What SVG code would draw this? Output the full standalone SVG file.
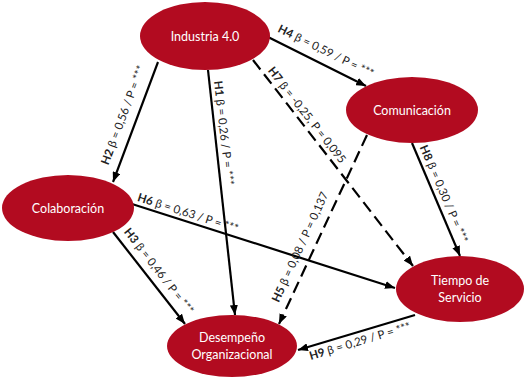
<svg xmlns="http://www.w3.org/2000/svg" width="526" height="380" viewBox="0 0 526 380">
<style>
.node{fill:#B20B20;}
.nt{fill:#ffffff;font-family:Lato,"Open Sans",sans-serif;font-size:12.5px;text-anchor:middle;}
.ln{stroke:#000;stroke-width:2.2;fill:none;}
.dash{stroke-dasharray:12 6;}
.lb{fill:#222;font-family:Lato,"Open Sans",sans-serif;font-size:11.5px;text-anchor:middle;}
.h{font-weight:bold;}
</style>
<defs>
<marker id="arr" viewBox="0 0 10 8" refX="10" refY="4" markerWidth="10" markerHeight="8" markerUnits="userSpaceOnUse" orient="auto">
<path d="M0,0 L10,4 L0,8 z" fill="#000"/>
</marker>
</defs>
<rect width="526" height="380" fill="#fff"/>
<g id="connectors">
<line class="ln" x1="158" y1="62" x2="113" y2="182" marker-end="url(#arr)"/>
<line class="ln" x1="208" y1="70" x2="235" y2="315" marker-end="url(#arr)"/>
<line class="ln" x1="268" y1="37" x2="366" y2="86" marker-end="url(#arr)"/>
<line class="ln dash" x1="253" y1="60" x2="413" y2="266" marker-end="url(#arr)"/>
<line class="ln" x1="412" y1="143" x2="460" y2="256" marker-end="url(#arr)"/>
<line class="ln dash" x1="367" y1="135" x2="279" y2="324" marker-end="url(#arr)"/>
<line class="ln" x1="132" y1="204" x2="395" y2="288" marker-end="url(#arr)"/>
<line class="ln" x1="113" y1="232" x2="185" y2="324" marker-end="url(#arr)"/>
<line class="ln" x1="415" y1="315" x2="298" y2="350" marker-end="url(#arr)"/>
</g>
<g id="labels">
<text class="lb" transform="translate(123,115) rotate(-69.4)" dy="0.35em"><tspan class="h">H2</tspan><tspan dx="3">β = 0,56 / P = ***</tspan></text>
<text class="lb" transform="translate(224,133) rotate(83.4)" dy="0.35em"><tspan class="h">H1</tspan><tspan dx="3">β = 0,26 / P = ***</tspan></text>
<text class="lb" transform="translate(326,51) rotate(26)" dy="0.35em"><tspan class="h">H4</tspan><tspan dx="3">β = 0,59 / P = ***</tspan></text>
<text class="lb" transform="translate(307,115) rotate(52)" dy="0.35em"><tspan class="h">H7</tspan><tspan dx="3">β = -0,25, P = 0,095</tspan></text>
<text class="lb" transform="translate(444,194) rotate(66.8)" dy="0.35em"><tspan class="h">H8</tspan><tspan dx="3">β = 0,30 / P = ***</tspan></text>
<text class="lb" transform="translate(188,213) rotate(17.7)" dy="0.35em"><tspan class="h">H6</tspan><tspan dx="3">β = 0,63 / P = ***</tspan></text>
<text class="lb" transform="translate(159,271) rotate(52)" dy="0.35em"><tspan class="h">H3</tspan><tspan dx="3">β = 0,46 / P = ***</tspan></text>
<text class="lb" transform="translate(300,247) rotate(-65.4)" dy="0.35em"><tspan class="h">H5</tspan><tspan dx="3">β = 0,08 / P = 0,137</tspan></text>
<text class="lb" transform="translate(360,341) rotate(-16.7)" dy="0.35em"><tspan class="h">H9</tspan><tspan dx="3">β = 0,29 / P = ***</tspan></text>
</g>
<g id="industria">
<ellipse class="node" cx="205" cy="36" rx="65" ry="34"/>
<text class="nt" x="205" y="40.5">Industria 4.0</text>
</g>
<g id="comunicacion">
<ellipse class="node" cx="412" cy="110" rx="66" ry="33"/>
<text class="nt" x="412" y="114.5">Comunicación</text>
</g>
<g id="colaboracion">
<ellipse class="node" cx="68" cy="208" rx="66" ry="33"/>
<text class="nt" x="68" y="212.5">Colaboración</text>
</g>
<g id="tiempo">
<ellipse class="node" cx="460" cy="289" rx="64" ry="33"/>
<text class="nt" x="460" y="285">Tiempo de</text>
<text class="nt" x="460" y="302">Servicio</text>
</g>
<g id="desempeno">
<ellipse class="node" cx="232" cy="346" rx="65" ry="31"/>
<text class="nt" x="232" y="342">Desempeño</text>
<text class="nt" x="232" y="359">Organizacional</text>
</g>
</svg>
